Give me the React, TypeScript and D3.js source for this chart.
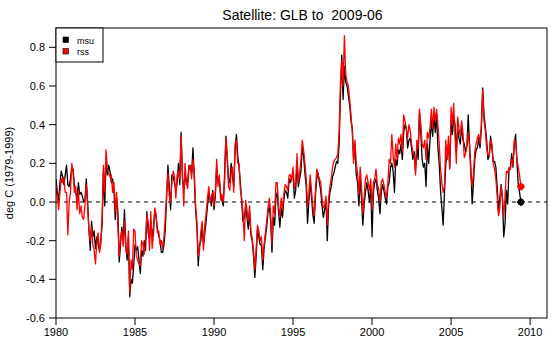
import React from "react";
import * as d3 from "d3";

const startYear = 1980;
const title = "Satellite: GLB to  2009-06";
const yLabel = "deg C (1979-1999)";
const seriesNames = ["msu", "rss"];
const xTicks = [1980, 1985, 1990, 1995, 2000, 2005, 2010];
const yTicks = [-0.6, -0.4, -0.2, 0.0, 0.2, 0.4, 0.6, 0.8];

// monthly anomalies, Jan 1980 .. Jun 2009
const msu: number[] = [
  // 1980
  0.12, 0.05, 0.01, 0.10, 0.16, 0.13, 0.09, 0.14, 0.19, 0.09, 0.08, 0.12,
  // 1981
  0.18, 0.17, 0.08, 0.05, 0.02, 0.10, 0.04, 0.05, 0.03, 0.00, 0.01, 0.12,
  // 1982
  0.00, -0.14, -0.25, -0.10, -0.18, -0.15, -0.24, -0.18, -0.22, -0.25, -0.20, -0.12,
  // 1983
  0.16, -0.02, 0.22, 0.14, 0.19, 0.16, 0.10, 0.12, 0.06, -0.09, 0.02, -0.05,
  // 1984
  -0.31, -0.22, -0.13, -0.20, -0.04, -0.22, -0.30, -0.18, -0.49, -0.40, -0.42, -0.33,
  // 1985
  -0.22, -0.25, -0.23, -0.30, -0.37, -0.25, -0.28, -0.20, -0.25, -0.05, -0.16, -0.19,
  // 1986
  -0.10, -0.18, -0.13, -0.05, -0.08, -0.14, -0.17, -0.20, -0.26, -0.26, -0.22, -0.14,
  // 1987
  0.02, 0.19, 0.08, -0.04, 0.14, 0.13, 0.10, 0.06, 0.10, 0.20, 0.09, 0.36,
  // 1988
  0.12, 0.06, 0.15, 0.09, 0.11, 0.19, 0.17, 0.15, 0.28, 0.12, -0.04, -0.13,
  // 1989
  -0.33, -0.22, -0.20, -0.12, -0.22, -0.16, -0.10, -0.02, 0.04, 0.02, -0.02, 0.06,
  // 1990
  -0.04, 0.03, 0.18, 0.10, 0.12, 0.04, 0.01, -0.02, 0.14, 0.34, 0.22, 0.12,
  // 1991
  0.10, 0.20, 0.13, 0.08, 0.27, 0.35, 0.24, 0.18, 0.10, 0.00, -0.10, -0.08,
  // 1992
  -0.02, -0.08, -0.14, -0.05, -0.17, -0.20, -0.28, -0.39, -0.28, -0.14, -0.18, -0.22,
  // 1993
  -0.22, -0.35, -0.24, -0.18, -0.13, -0.05, -0.02, -0.10, -0.26, -0.08, -0.12, 0.02,
  // 1994
  0.05, -0.05, -0.13, -0.03, -0.08, 0.01, 0.06, 0.05, 0.02, 0.12, 0.10, 0.13,
  // 1995
  0.15, 0.02, 0.06, 0.20, 0.08, 0.12, 0.16, 0.28, 0.24, 0.15, 0.08, -0.11,
  // 1996
  0.00, 0.10, 0.03, -0.06, -0.11, 0.03, 0.12, 0.15, 0.10, 0.06, -0.02, -0.08,
  // 1997
  -0.04, 0.01, -0.20, -0.02, 0.05, 0.08, 0.13, 0.15, 0.18, 0.21, 0.20, 0.30,
  // 1998
  0.55, 0.76, 0.53, 0.70, 0.62, 0.60, 0.55, 0.50, 0.42, 0.38, 0.22, 0.30,
  // 1999
  0.14, 0.10, -0.02, 0.12, 0.02, -0.12, -0.01, 0.05, 0.10, 0.06, 0.00, 0.08,
  // 2000
  -0.18, 0.05, 0.10, 0.12, 0.06, 0.02, -0.06, 0.05, 0.09, 0.06, 0.02, -0.01,
  // 2001
  0.08, 0.10, 0.18, 0.20, 0.16, 0.05, 0.22, 0.19, 0.27, 0.25, 0.30, 0.22,
  // 2002
  0.36, 0.40, 0.38, 0.28, 0.32, 0.33, 0.28, 0.22, 0.26, 0.16, 0.28, 0.22,
  // 2003
  0.46, 0.36, 0.22, 0.18, 0.20, 0.08, 0.30, 0.20, 0.32, 0.42, 0.34, 0.45,
  // 2004
  0.36, 0.45, 0.28, 0.20, 0.06, -0.03, -0.12, 0.05, 0.20, 0.24, 0.30, 0.18,
  // 2005
  0.42, 0.35, 0.44, 0.40, 0.26, 0.38, 0.33, 0.30, 0.40, 0.32, 0.30, 0.26,
  // 2006
  0.29, 0.45, 0.30, 0.18, -0.01, 0.10, 0.22, 0.27, 0.28, 0.33, 0.28, 0.38,
  // 2007
  0.59, 0.45, 0.39, 0.32, 0.22, 0.24, 0.34, 0.28, 0.21, 0.21, 0.18, 0.08,
  // 2008
  -0.05, 0.02, 0.09, 0.02, -0.18, -0.11, 0.06, -0.01, 0.17, 0.17, 0.25, 0.18,
  // 2009
  0.30, 0.35, 0.21, 0.09, 0.05, 0.00,
];

const rss: number[] = [
  // 1980
  0.09, 0.02, -0.04, 0.05, 0.12, 0.10, 0.13, 0.05, 0.05, -0.17, 0.00, 0.05,
  // 1981
  0.20, 0.15, 0.05, 0.08, -0.04, 0.06, -0.06, -0.02, -0.08, -0.09, -0.01, 0.09,
  // 1982
  -0.02, -0.15, -0.20, -0.13, -0.22, -0.25, -0.32, -0.20, -0.16, -0.26, -0.22, -0.08,
  // 1983
  0.19, 0.05, 0.27, 0.17, 0.15, 0.13, 0.14, 0.05, 0.10, -0.05, 0.05, -0.13,
  // 1984
  -0.28, -0.18, -0.15, -0.23, -0.10, -0.25, -0.27, -0.15, -0.47, -0.30, -0.35, -0.14,
  // 1985
  -0.15, -0.28, -0.30, -0.32, -0.33, -0.20, -0.22, -0.27, -0.19, -0.07, -0.10, -0.25,
  // 1986
  -0.05, -0.24, -0.17, -0.03, -0.06, -0.16, -0.15, -0.22, -0.20, -0.24, -0.18, -0.08,
  // 1987
  0.05, 0.15, 0.03, 0.00, 0.10, 0.16, 0.13, 0.02, 0.14, 0.16, 0.12, 0.34,
  // 1988
  0.16, -0.02, 0.20, 0.10, 0.07, 0.18, 0.19, 0.12, 0.22, 0.16, -0.02, -0.10,
  // 1989
  -0.28, -0.25, -0.15, -0.10, -0.25, -0.12, -0.06, 0.02, 0.08, 0.00, 0.03, 0.05,
  // 1990
  -0.02, 0.06, 0.22, 0.08, 0.14, 0.01, 0.04, 0.00, 0.10, 0.33, 0.25, 0.08,
  // 1991
  0.06, 0.16, 0.18, 0.05, 0.30, 0.32, 0.20, 0.20, 0.06, 0.02, -0.06, -0.20,
  // 1992
  0.01, -0.04, -0.10, -0.02, -0.15, -0.19, -0.25, -0.35, -0.24, -0.12, -0.15, -0.20,
  // 1993
  -0.18, -0.30, -0.22, -0.16, -0.10, -0.03, 0.02, -0.06, -0.22, -0.02, -0.06, 0.10,
  // 1994
  0.10, -0.02, -0.08, 0.02, -0.04, 0.04, 0.09, 0.08, 0.06, 0.14, 0.14, 0.11,
  // 1995
  0.18, 0.07, 0.10, 0.25, 0.10, 0.15, 0.22, 0.32, 0.27, 0.20, 0.12, -0.02,
  // 1996
  0.04, 0.14, 0.06, -0.02, -0.07, 0.06, 0.17, 0.14, 0.12, 0.10, 0.02, -0.03,
  // 1997
  -0.02, 0.03, -0.12, 0.02, 0.08, 0.12, 0.18, 0.21, 0.22, 0.23, 0.25, 0.36,
  // 1998
  0.62, 0.73, 0.60, 0.86, 0.66, 0.62, 0.60, 0.53, 0.45, 0.36, 0.20, 0.32,
  // 1999
  0.20, 0.15, 0.04, 0.18, 0.08, -0.06, 0.03, 0.12, 0.14, 0.10, 0.06, 0.12,
  // 2000
  -0.04, 0.10, 0.12, 0.17, 0.09, 0.07, 0.00, 0.10, 0.12, 0.09, 0.05, 0.02,
  // 2001
  0.10, 0.22, 0.20, 0.35, 0.24, 0.18, 0.30, 0.22, 0.33, 0.30, 0.35, 0.26,
  // 2002
  0.45, 0.42, 0.38, 0.33, 0.40, 0.37, 0.30, 0.26, 0.24, 0.14, 0.32, 0.28,
  // 2003
  0.48, 0.40, 0.30, 0.28, 0.32, 0.22, 0.36, 0.33, 0.38, 0.48, 0.38, 0.49,
  // 2004
  0.42, 0.48, 0.40, 0.30, 0.17, 0.10, 0.05, 0.08, 0.32, 0.22, 0.34, 0.17,
  // 2005
  0.49, 0.40, 0.51, 0.34, 0.20, 0.44, 0.38, 0.34, 0.42, 0.36, 0.23, 0.25,
  // 2006
  0.29, 0.36, 0.29, 0.14, 0.08, 0.15, 0.26, 0.30, 0.33, 0.35, 0.30, 0.40,
  // 2007
  0.58, 0.42, 0.37, 0.28, 0.24, 0.24, 0.32, 0.30, 0.20, 0.17, 0.12, 0.03,
  // 2008
  -0.07, -0.03, 0.08, 0.02, -0.08, 0.03, 0.16, 0.15, 0.18, 0.17, 0.22, 0.19,
  // 2009
  0.32, 0.31, 0.22, 0.18, 0.14, 0.08,
];

const W = 560;
const H = 360;
const L = 56, R = 547, T = 28, B = 318;
const FONT = "'Liberation Sans', Arial, Helvetica, sans-serif";

export default function App() {
  const x = d3.scaleLinear().domain([1980, 2011.07]).range([L, R]);
  const y = d3.scaleLinear().domain([-0.6, 0.9]).range([B, T]);
  const t = (i: number) => startYear + i / 12;
  const line = d3
    .line<number>()
    .x((_, i) => x(t(i)))
    .y((v) => y(v));

  const series = [
    { name: seriesNames[0], data: msu, color: "#000000" },
    { name: seriesNames[1], data: rss, color: "#ff0000" },
  ];

  return (
    <svg
      width={W}
      height={H}
      style={{ position: "absolute", left: 0, top: 0, background: "#fff" }}
      fontFamily={FONT}
    >
      <rect x={0} y={0} width={W} height={H} fill="#fff" />
      <text
        x={(L + R) / 2 + 1}
        y={20}
        textAnchor="middle"
        fontSize={14}
        fill="#000"
        style={{ whiteSpace: "pre" }}
      >
        {title}
      </text>

      <defs>
        <clipPath id="plotclip">
          <rect x={L} y={T} width={R - L} height={B - T} />
        </clipPath>
      </defs>

      <g clipPath="url(#plotclip)">
        <line
          x1={L}
          x2={R}
          y1={y(0)}
          y2={y(0)}
          stroke="#000"
          strokeWidth={1}
          strokeDasharray="4,4"
        />
        {series.map((s) => (
          <path
            key={s.name}
            d={line(s.data) || ""}
            fill="none"
            stroke={s.color}
            strokeWidth={1.3}
            strokeLinejoin="round"
          />
        ))}
        {series.map((s) => {
          const i = s.data.length - 1;
          const cx = x(t(i));
          const cy = y(s.data[i]);
          return (
            <g key={s.name + "-end"} stroke={s.color} strokeWidth={1.5}>
              <circle cx={cx} cy={cy} r={2.6} fill={s.color} />
              <line x1={cx - 4} x2={cx + 4} y1={cy} y2={cy} />
              <line x1={cx} x2={cx} y1={cy - 4} y2={cy + 4} />
            </g>
          );
        })}
      </g>

      <rect x={L} y={T} width={R - L} height={B - T} fill="none" stroke="#000" strokeWidth={1} />

      {yTicks.map((v) => (
        <g key={"y" + v}>
          <line x1={L - 7} x2={L} y1={y(v)} y2={y(v)} stroke="#000" />
          <text x={L - 11} y={y(v) + 4} textAnchor="end" fontSize={11} fill="#000">
            {v.toFixed(1)}
          </text>
        </g>
      ))}
      {xTicks.map((v) => (
        <g key={"x" + v}>
          <line x1={x(v)} x2={x(v)} y1={B} y2={B + 7} stroke="#000" />
          <text x={x(v)} y={336} textAnchor="middle" fontSize={11} fill="#000">
            {v}
          </text>
        </g>
      ))}
      <text
        transform={`translate(13, ${(T + B) / 2}) rotate(-90)`}
        textAnchor="middle"
        fontSize={11}
        fill="#000"
      >
        {yLabel}
      </text>

      <g>
        <rect x={L} y={T} width={47} height={34} fill="#fff" stroke="#000" strokeWidth={1} />
        {series.map((s, k) => (
          <g key={s.name + "-leg"}>
            <rect
              x={63}
              y={37 + k * 11.5}
              width={5.5}
              height={5.5}
              fill={s.color}
              stroke="#000"
              strokeWidth={0.6}
            />
            <text x={77} y={43.5 + k * 11.5} fontSize={9} fill="#000">
              {s.name}
            </text>
          </g>
        ))}
      </g>
    </svg>
  );
}
